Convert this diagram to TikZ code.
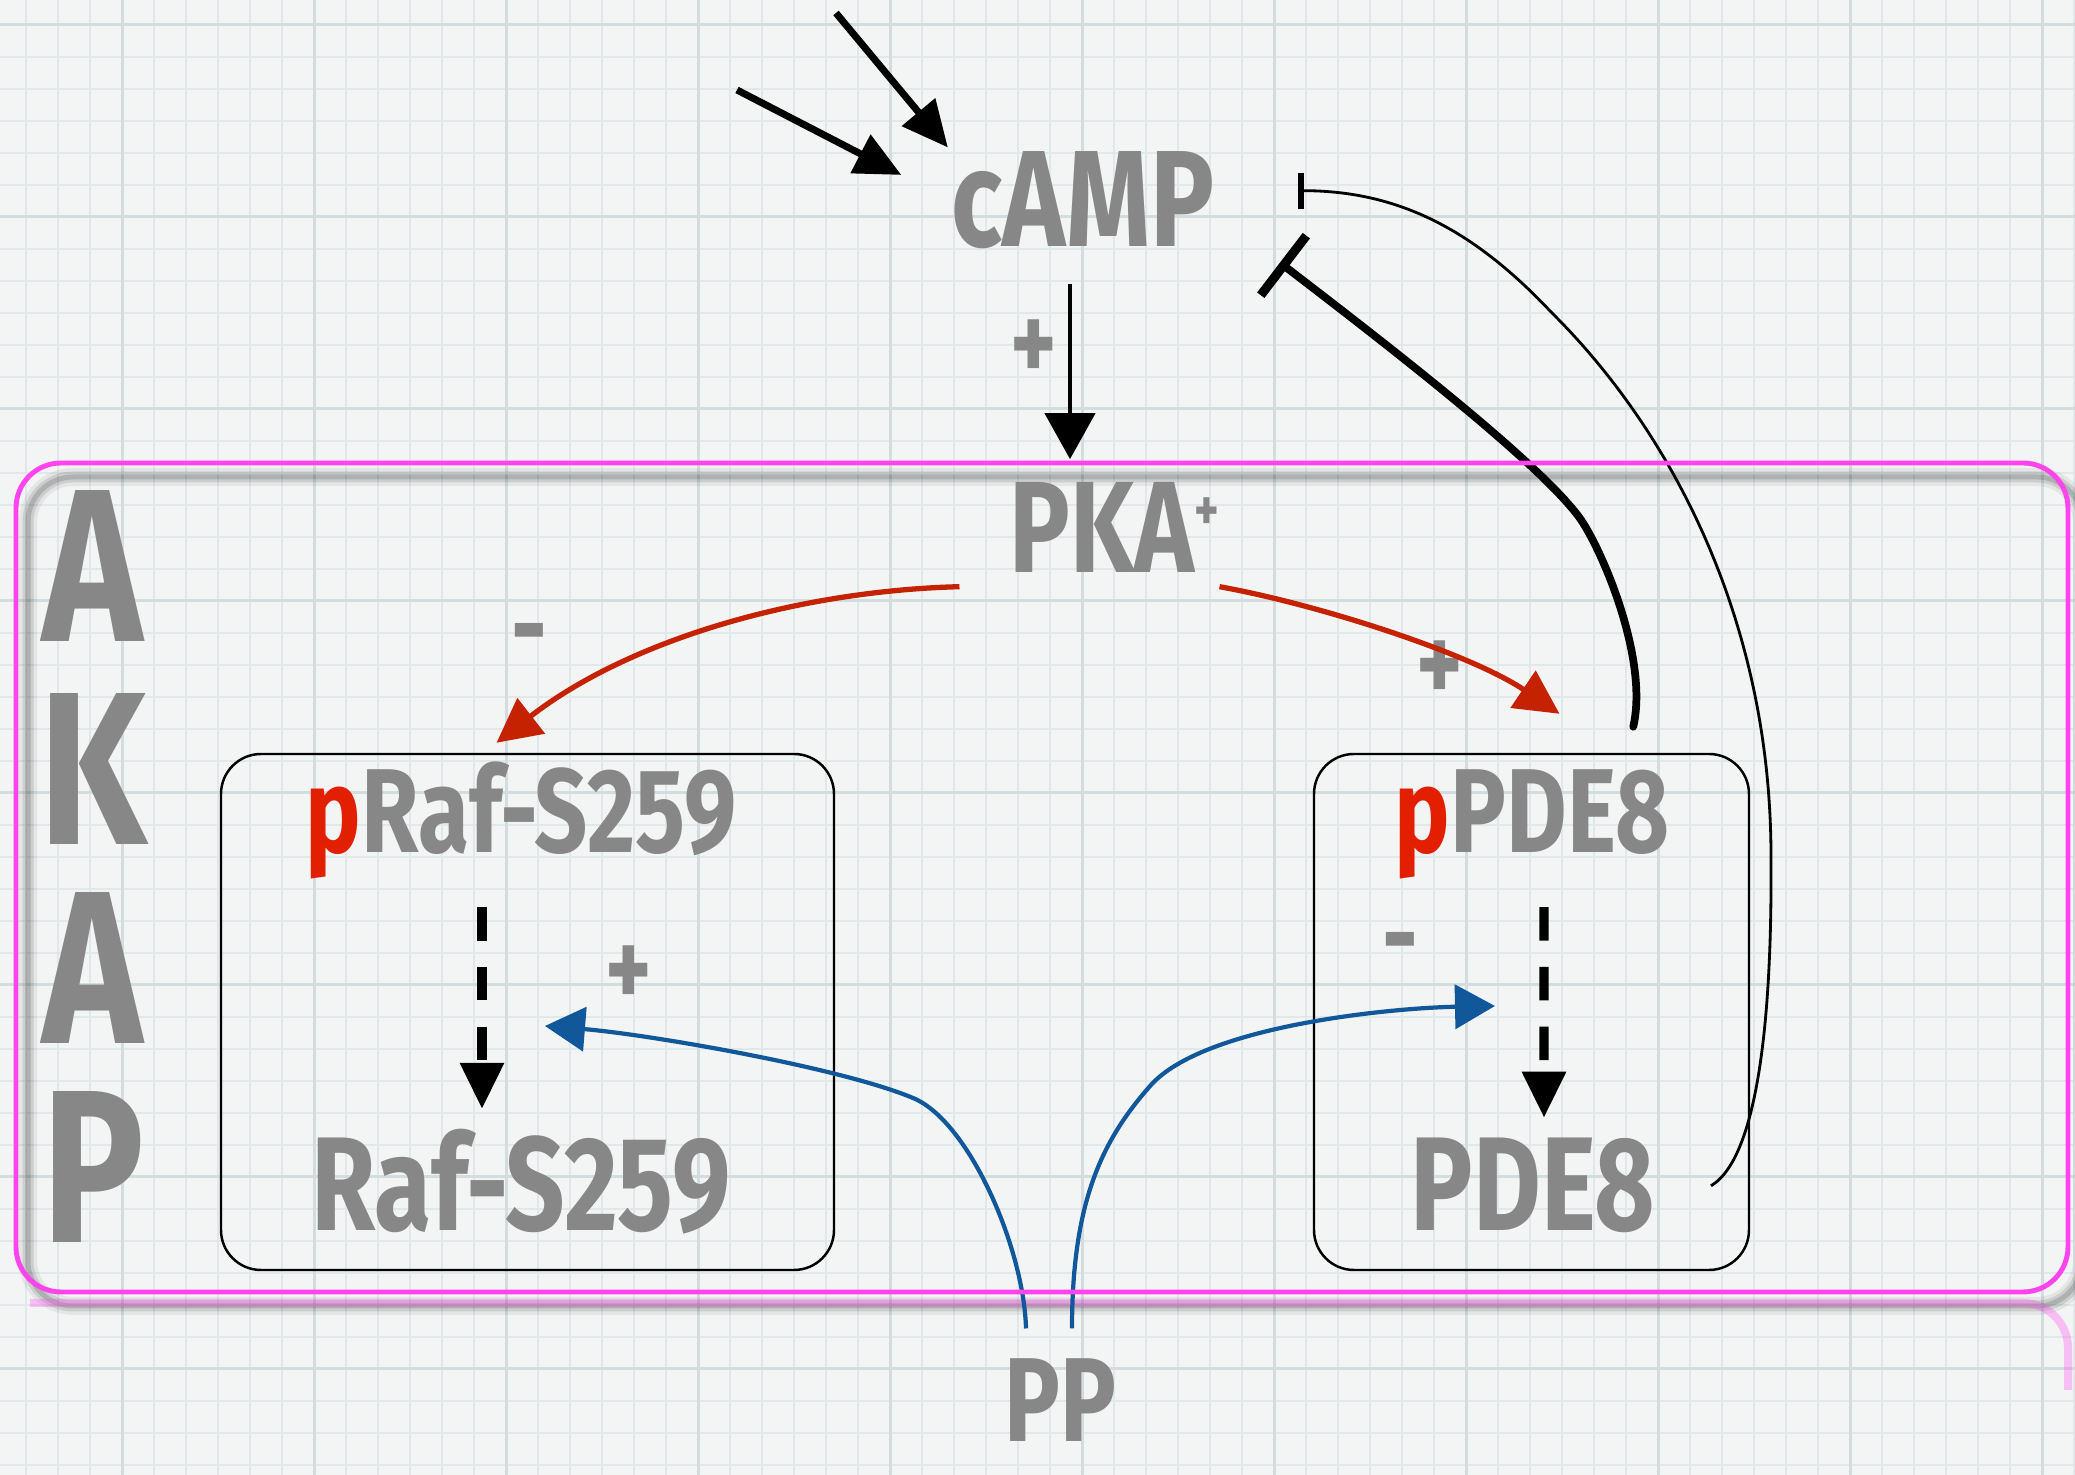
\documentclass[tikz,border=0pt]{standalone}
\usepackage{fontspec}
\newfontfamily\hand{Fira Sans}[FakeStretch=0.78]
\usetikzlibrary{arrows.meta, positioning}

\definecolor{paper}{HTML}{F3F4F4}
\definecolor{gridmin}{HTML}{E1E8EA}
\definecolor{gridmaj}{HTML}{D3DDE0}
\definecolor{inkgray}{HTML}{878787}
\definecolor{akappink}{HTML}{FF44EE}
\definecolor{kred}{HTML}{C42200}
\definecolor{pred}{HTML}{E22000}
\definecolor{kblue}{HTML}{11589A}

\begin{document}
\begin{tikzpicture}[x=0.1mm, y=-0.1mm,
  gridminor/.style={draw=gridmin, line width=0.15mm},
  gridmajor/.style={draw=gridmaj, line width=0.3mm},
  lbl/.style={font=\hand\bfseries\fontsize{#1}{#1}\selectfont, text=inkgray, inner sep=0pt, anchor=base},
  sgn/.style={font=\hand\bfseries\fontsize{32}{32}\selectfont, text=inkgray, inner sep=0pt},
  cell/.style={draw=black, line width=0.7pt, rounded corners=4mm, minimum width=#1, minimum height=51.6mm, inner sep=0pt},
  akapframe/.style={draw=akappink, line width=1.4pt, rounded corners=4.5mm, inner sep=0pt},
  inarrow/.style={draw=black, line width=2pt, -{Triangle[length=4.6mm, width=4.2mm]}},
  actarrow/.style={draw=black, line width=1.3pt, -{Triangle[length=4.6mm, width=5mm]}},
  kinase/.style={draw=kred, line width=1.5pt, -{Triangle[length=4.4mm, width=4.4mm]}},
  phos/.style={draw=kblue, line width=1.2pt, -{Triangle[length=4mm, width=4.4mm]}},
  stepline/.style={draw=black, line width=2.6pt, dash pattern=on 9.5pt off 7.5pt, -{Triangle[length=4.6mm, width=4.2mm]}},
  inhib/.style={draw=black, line width=2.2pt, line cap=round, -{Bar[width=7.5mm, line width=2.6pt]}},
  fbline/.style={draw=black, line width=0.8pt, -{Bar[width=3.6mm, line width=1.8pt]}}
]
\useasboundingbox (0,0) rectangle (2075,1475);
\fill [paper] (0,0) rectangle (2075,1475);

% squared paper
\foreach \gx in {26,58,...,2075} \draw [gridminor] (\gx,0) -- (\gx,1475);
\foreach \gy in {25,57,...,1475} \draw [gridminor] (0,\gy) -- (2075,\gy);
\foreach \gx in {122,314,...,2075} \draw [gridmajor] (\gx,0) -- (\gx,1475);
\foreach \gy in {25,217,...,1475} \draw [gridmajor] (0,\gy) -- (2075,\gy);

% shadow and reflection of the AKAP frame
\foreach \w/\o in {1.8mm/0.06, 1.1mm/0.1, 0.5mm/0.14}
  \draw [black, opacity=\o, line width=\w, rounded corners=4.5mm] (28,477) rectangle (2082,1306);
\draw [akappink, opacity=0.3, line width=0.8mm, rounded corners=4.5mm] (30,1303) -- (2068,1303) -- (2068,1390);

% boxes
\node [cell=61.3mm] (rafbox) at (527.5,1012) {};
\node [cell=43.5mm] (ppdebox) at (1531.5,1012) {};

% species
\node [lbl=39] (camp) at (1083,247) {cAMP};
\node [lbl=37] (pka) at (1114,573) {PKA\raisebox{12pt}{\fontsize{17}{17}\selectfont +}};
\node [lbl=34] (praf) at (521,853) {\textcolor{pred}{p}Raf-S259};
\node [lbl=38] (raf) at (521,1231) {Raf-S259};
\node [lbl=34] (ppde) at (1532,853) {\textcolor{pred}{p}PDE8};
\node [lbl=38] (pde) at (1533,1231) {PDE8};
\node [lbl=34] (pp) at (1060,1442) {PP};
\node [lbl=62] (akapa) at (93,642) {A};
\node [lbl=62] (akapk) at (93,845) {K};
\node [lbl=62] (akapb) at (93,1044) {A};
\node [lbl=62] (akapp) at (93,1243) {P};

% signs
\node [sgn] (sgncamp) at (1034,351) {+};
\node [sgn] (sgnraf) at (529,644) {-};
\node [sgn] (sgnpde) at (1440,672) {+};
\node [sgn] (sgnpprf) at (629,977) {+};
\node [sgn] (sgnpppd) at (1400,953) {-};

% inputs to cAMP
\coordinate (src1) at (836,13);
\coordinate (src2) at (737,90);
\draw [inarrow, shorten >=0.5mm] (src1) -- (camp.north west);
\draw [inarrow, shorten >=5.6mm] (src2) -- (camp.west);

\coordinate (campfoot) at ([xshift=-1.3mm]camp.south);
\draw [actarrow, shorten <=3.4mm, shorten >=2.3mm] (campfoot) -- (campfoot |- pka.north);

% PKA phosphorylations
\draw [kinase] ([xshift=-4.9mm,yshift=-1.3mm]pka.south west)
  .. controls +(-159,4) and +(134,-104) .. ([xshift=-3.1mm,yshift=1mm]rafbox.north);
\draw [kinase] ([yshift=-1.3mm]pka.south east)
  .. controls +(100,18) and +(-89,-60) .. ([xshift=2.8mm,yshift=3.9mm]ppdebox.north);

% dephosphorylation steps
\draw [stepline] ([xshift=-3.9mm,yshift=-2.7mm]praf.south) -- ([xshift=-3.9mm,yshift=2mm]raf.north);
\draw [stepline] ([xshift=1.2mm,yshift=-2.7mm]ppde.south) -- ([xshift=1.1mm,yshift=2mm]pde.north);

% phosphatase
\coordinate (rafbend) at (913,1098);
\coordinate (rafhit) at (545,1026);
\coordinate (pdebend) at (1151,1085);
\coordinate (pdehit) at (1495,1006);
\draw [phos] ([xshift=-3.4mm,yshift=3mm]pp.north)
  .. controls +(-2,-80) and +(56,23) .. (rafbend)
  .. controls +(-74,-31) and +(100,8) .. (rafhit);
\draw [phos] ([xshift=1.2mm,yshift=3mm]pp.north)
  .. controls +(0,-130) and +(-47,53) .. (pdebend)
  .. controls +(53,-59) and +(-105,2) .. (pdehit);

% negative feedback on cAMP
\coordinate (inhbend) at (1579,517);
\draw [inhib] ([xshift=-11.7mm,yshift=2.6mm]ppdebox.north east)
  .. controls +(16,-68) and +(22,30) .. (inhbend)
  .. controls +(-41,-55) and +(115,88) .. ([xshift=6.5mm,yshift=-6.2mm]camp.east);
\coordinate (fbk1) at (1771,860);
\coordinate (fbk2) at (1552,313);
\draw [fbline] ([xshift=5.5mm]pde.east)
  .. controls +(50,-30) and +(1,140) .. (fbk1)
  .. controls +(1,-240) and +(118,117) .. (fbk2)
  .. controls +(-77,-82) and +(102,0) .. ([xshift=8.3mm,yshift=1mm]camp.east);

% AKAP frame
\node [akapframe, minimum width=205.2mm, minimum height=82.9mm] (akapbox) at (1042,877.5) {};
\end{tikzpicture}
\end{document}
